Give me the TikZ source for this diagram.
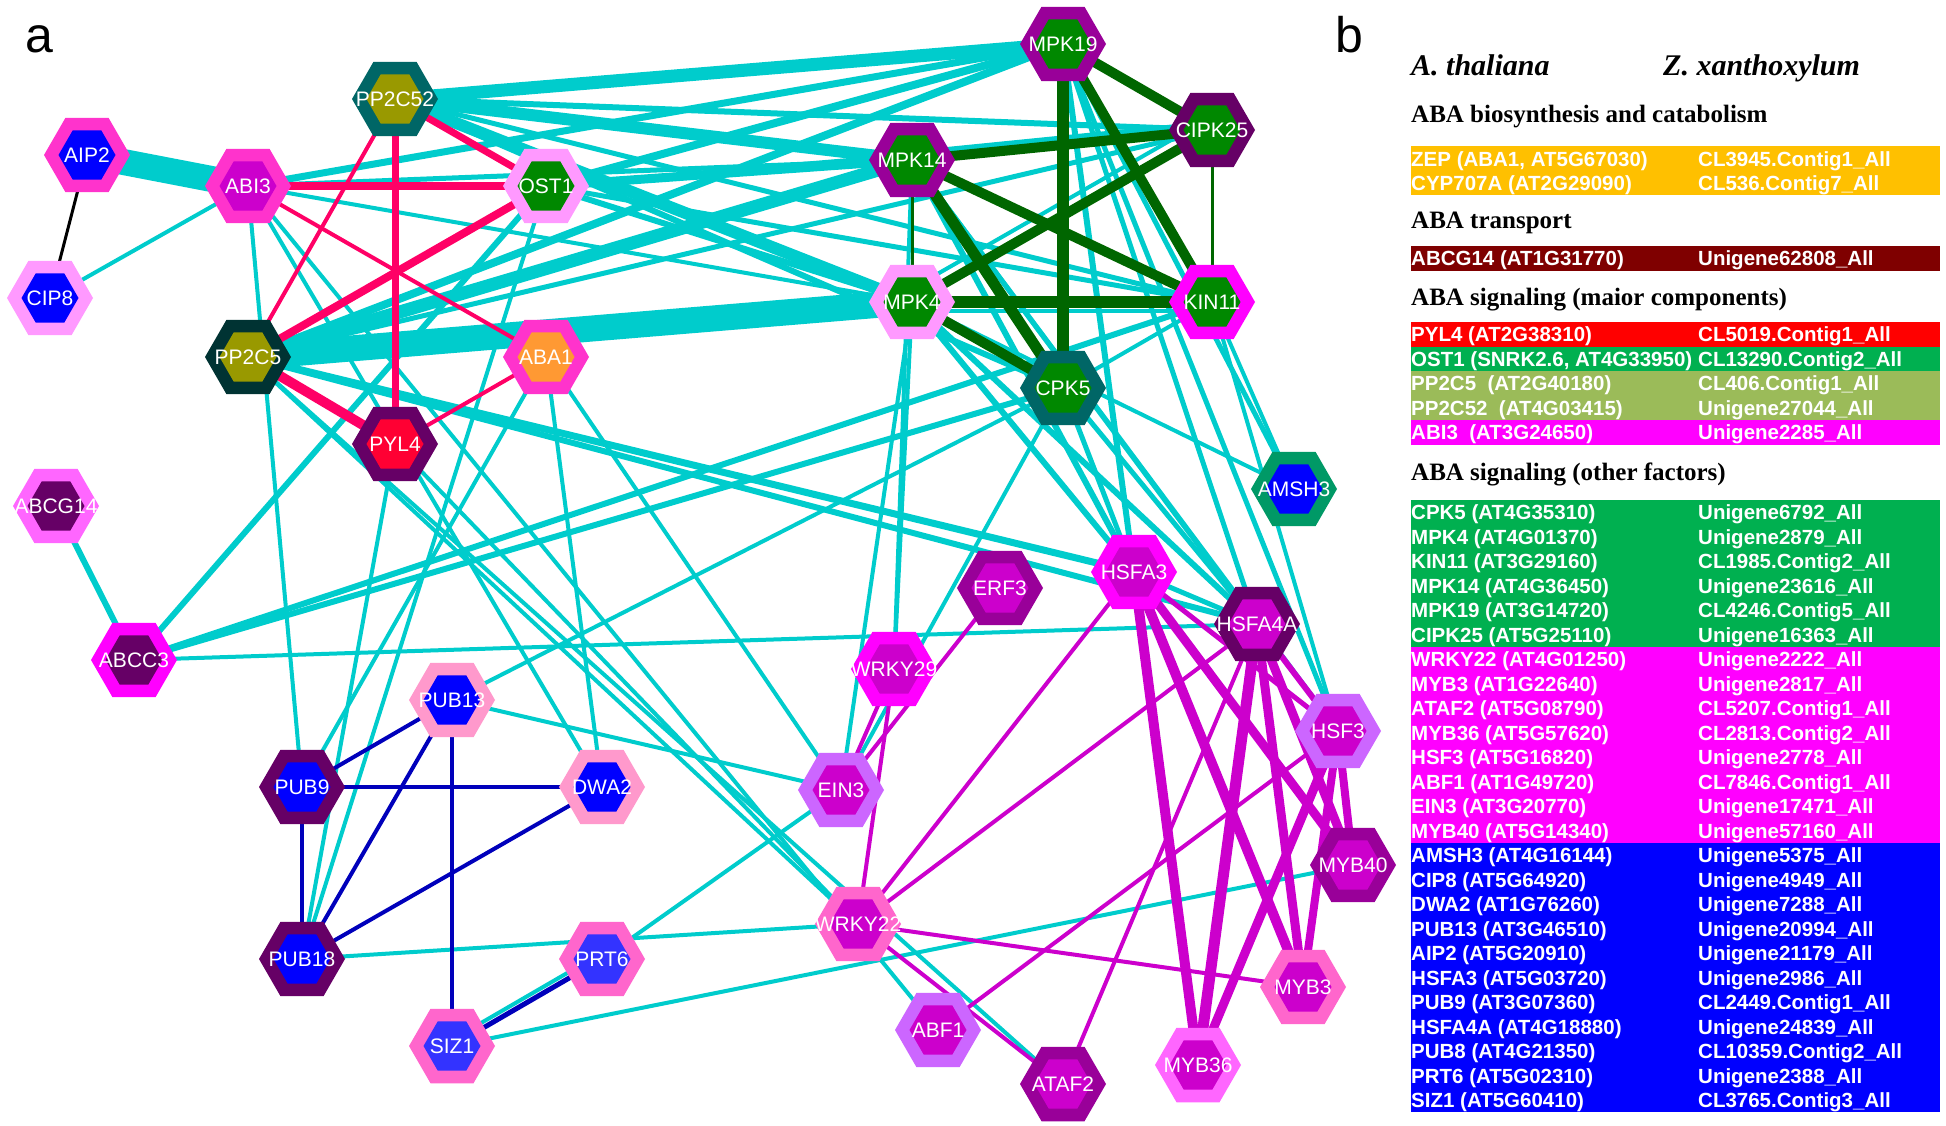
\documentclass[tikz,border=0pt]{standalone}
\usepackage{fontspec}
\setmainfont{Liberation Sans}
\newfontfamily\timesfont{Liberation Serif}
\usepackage{xcolor}
\usepackage{tikz}
\usetikzlibrary{shapes.geometric, backgrounds}

% colori degli archi
\definecolor{ecyan}{HTML}{00CCCC}
\definecolor{ered}{HTML}{FF0066}
\definecolor{egreen}{HTML}{006600}
\definecolor{epurple}{HTML}{CC00CC}
\definecolor{enavy}{HTML}{0000BB}
% colori dei nodi (anello esterno)
\definecolor{hotpink}{HTML}{FF33CC}
\definecolor{lightpink}{HTML}{FF99FF}
\definecolor{rosepink}{HTML}{FF99CC}
\definecolor{pinkring}{HTML}{FF66CC}
\definecolor{orchidring}{HTML}{FF66FF}
\definecolor{fuchsiaring}{HTML}{FF00FF}
\definecolor{plumring}{HTML}{990099}
\definecolor{aubergine}{HTML}{660066}
\definecolor{lilac}{HTML}{CC66FF}
\definecolor{tealring}{HTML}{006666}
\definecolor{deepteal}{HTML}{003333}
\definecolor{seagreen}{HTML}{009966}
% colori dei nodi (esagono interno)
\definecolor{inblue}{HTML}{0000FF}
\definecolor{inblue2}{HTML}{3333FF}
\definecolor{inviolet}{HTML}{CC00CC}
\definecolor{ingreen}{HTML}{008800}
\definecolor{inolive}{HTML}{999900}
\definecolor{inorange}{HTML}{FF9933}
\definecolor{inred}{HTML}{FF0033}
% colori della tabella
\definecolor{barorange}{HTML}{FFC000}
\definecolor{barmaroon}{HTML}{7F0000}
\definecolor{barred}{HTML}{FF0000}
\definecolor{bargreen}{HTML}{00B050}
\definecolor{barolive}{HTML}{9BBB59}
\definecolor{barmagenta}{HTML}{FF00FF}
\definecolor{barblue}{HTML}{0000FF}

\newcommand{\genefont}{\fontsize{21}{21}\selectfont}
\newcommand{\rowfont}{\fontsize{20.5}{20.5}\selectfont\bfseries}
\newcommand{\secfont}{\timesfont\fontsize{25}{25}\selectfont\bfseries}
\newcommand{\spfont}{\timesfont\fontsize{30}{30}\selectfont\bfseries\itshape}
\newcommand{\panelfont}{\fontsize{50}{50}\selectfont}

\tikzset{
  cy/.style={draw=ecyan, line width=#1pt},
  rd/.style={draw=ered, line width=#1pt},
  gn/.style={draw=egreen, line width=#1pt},
  pu/.style={draw=epurple, line width=#1pt},
  nv/.style={draw=enavy, line width=#1pt},
  hexring/.style={regular polygon, regular polygon sides=6, minimum size=86pt, inner sep=0pt},
  genelbl/.style={text=white, font=\genefont, inner sep=0pt},
  rowtxt/.style={text=white, font=\rowfont, anchor=base west, inner sep=0pt},
  sectxt/.style={font=\secfont, anchor=base west, inner sep=0pt},
}

% nodo esagonale: nome, posizione, anello, interno, etichetta
\newcommand{\gene}[5]{%
  \node[hexring, fill=#3, label={[genelbl]center:#5},
    path picture={\fill[#4] (path picture bounding box.center) ++(0:28.5pt)
      -- ++(120:28.5pt) -- ++(180:28.5pt) -- ++(240:28.5pt)
      -- ++(300:28.5pt) -- ++(0:28.5pt) -- cycle;}]
    (#1) at (#2) {};}

\begin{document}
\begin{tikzpicture}[>=latex, x=1pt, y=-1pt]

  \useasboundingbox (0,0) rectangle (1946,1126);

  % 1. Lettere dei pannelli
  \node[font=\panelfont, anchor=base west, inner sep=0pt] (pa) at (25,53) {a};
  \node[font=\panelfont, anchor=base west, inner sep=0pt] (pb) at (1335,53) {b};

  % 2. Nodi della rete
  \gene{AIP2}{87,155}{hotpink}{inblue}{AIP2}
  \gene{CIP8}{50,298}{lightpink}{inblue}{CIP8}
  \gene{ABI3}{248,186}{hotpink}{inviolet}{ABI3}
  \gene{PP2C52}{395,99}{tealring}{inolive}{PP2C52}
  \gene{OST1}{546,186}{lightpink}{ingreen}{OST1}
  \gene{PP2C5}{248,357}{deepteal}{inolive}{PP2C5}
  \gene{ABA1}{546,357}{hotpink}{inorange}{ABA1}
  \gene{PYL4}{395,444}{aubergine}{inred}{PYL4}
  \gene{ABCG14}{56,506}{orchidring}{aubergine}{ABCG14}
  \gene{ABCC3}{134,660}{fuchsiaring}{aubergine}{ABCC3}
  \gene{MPK19}{1063,44}{plumring}{ingreen}{MPK19}
  \gene{MPK14}{912,160}{plumring}{ingreen}{MPK14}
  \gene{CIPK25}{1212,130}{aubergine}{ingreen}{CIPK25}
  \gene{MPK4}{912,302}{lightpink}{ingreen}{MPK4}
  \gene{KIN11}{1212,302}{fuchsiaring}{ingreen}{KIN11}
  \gene{CPK5}{1063,388}{tealring}{ingreen}{CPK5}
  \gene{AMSH3}{1294,489}{seagreen}{inblue}{AMSH3}
  \gene{HSFA3}{1134,572}{fuchsiaring}{inviolet}{HSFA3}
  \gene{ERF3}{1000,588}{plumring}{inviolet}{ERF3}
  \gene{HSFA4A}{1257,624}{aubergine}{inviolet}{HSFA4A}
  \gene{WRKY29}{894,669}{fuchsiaring}{inviolet}{WRKY29}
  \gene{HSF3}{1338,731}{lilac}{inviolet}{HSF3}
  \gene{EIN3}{841,790}{lilac}{inviolet}{EIN3}
  \gene{PUB13}{452,700}{rosepink}{inblue}{PUB13}
  \gene{PUB9}{302,787}{aubergine}{inblue}{PUB9}
  \gene{DWA2}{602,787}{rosepink}{inblue}{DWA2}
  \gene{PUB18}{302,959}{aubergine}{inblue}{PUB18}
  \gene{PRT6}{602,959}{pinkring}{inblue2}{PRT6}
  \gene{SIZ1}{452,1046}{pinkring}{inblue2}{SIZ1}
  \gene{WRKY22}{858,924}{pinkring}{inviolet}{WRKY22}
  \gene{MYB40}{1353,865}{plumring}{inviolet}{MYB40}
  \gene{MYB3}{1303,987}{pinkring}{inviolet}{MYB3}
  \gene{ABF1}{938,1030}{lilac}{inviolet}{ABF1}
  \gene{ATAF2}{1063,1084}{plumring}{inviolet}{ATAF2}
  \gene{MYB36}{1198,1065}{orchidring}{inviolet}{MYB36}

  % 3. Archi (sotto i nodi)
  \begin{scope}[on background layer]
    \fill[white] (0,0) rectangle (1946,1126);
    \foreach \a/\b/\w in {AIP2/ABI3/26, CIP8/ABI3/4, ABI3/PUB9/4, ABI3/DWA2/4,
        ABI3/ABF1/4, ABI3/MPK19/7, ABI3/MPK14/5, ABI3/MPK4/4,
        PP2C52/MPK19/13, PP2C52/MPK14/12, PP2C52/MPK4/12, PP2C52/CIPK25/6,
        PP2C52/KIN11/5, PP2C52/CPK5/6, OST1/MPK19/8, OST1/MPK14/9,
        OST1/MPK4/6, OST1/CIPK25/5, OST1/KIN11/5, PP2C5/MPK4/26,
        PP2C5/MPK14/13, PP2C5/MPK19/8, PP2C5/CIPK25/5, PP2C5/HSFA3/7,
        PP2C5/HSFA4A/6, PP2C5/WRKY22/4, PP2C5/ATAF2/4, PYL4/WRKY22/4,
        ABA1/PUB9/4, ABA1/DWA2/4, ABA1/EIN3/4, ABCG14/ABCC3/6,
        ABCC3/OST1/6, ABCC3/KIN11/6, ABCC3/CPK5/6, ABCC3/HSFA4A/4,
        PUB13/CPK5/4, PUB13/EIN3/4, PUB18/OST1/4, PUB18/PYL4/4,
        PUB18/WRKY22/4, PRT6/EIN3/4, SIZ1/MYB40/4,
        MPK19/HSFA3/6, MPK19/HSFA4A/5, MPK19/AMSH3/5, MPK19/HSF3/5,
        MPK14/HSFA3/6, MPK14/HSFA4A/5, MPK14/HSF3/5, MPK14/WRKY29/4,
        MPK4/HSFA3/6, MPK4/HSFA4A/6, MPK4/AMSH3/4, MPK4/EIN3/4,
        MPK4/WRKY29/4, CPK5/EIN3/4, CPK5/HSFA3/5, CPK5/HSFA4A/5,
        CPK5/KIN11/4, KIN11/AMSH3/4, KIN11/HSF3/4, HSFA3/HSFA4A/5}
      \draw[cy=\w] (\a.center) -- (\b.center);
    % archi ciano accanto a quelli colorati
    \draw[cy=5] ([yshift=7pt]MPK14.center) -- ([yshift=7pt]CIPK25.center);
    \draw[cy=4] ([xshift=-6pt, yshift=10pt]MPK4.center) -- ([xshift=-6pt, yshift=10pt]CIPK25.center);
    \draw[cy=4] ([yshift=-9pt]MPK4.center) -- ([yshift=-9pt]KIN11.center);
    \draw[cy=4] ([xshift=-2pt, yshift=5pt]SIZ1.center) -- ([xshift=-2pt, yshift=5pt]PRT6.center);

    \foreach \a/\b/\w in {ABI3/OST1/8, PP2C52/PYL4/7, PP2C52/OST1/7, PP2C52/PP2C5/4,
        ABI3/ABA1/4, OST1/PP2C5/8, PP2C5/PYL4/10, PYL4/ABA1/4}
      \draw[rd=\w] (\a.center) -- (\b.center);
    \draw[line width=3pt] (AIP2.center) -- (CIP8.center);

    \foreach \a/\b/\w in {MPK19/CIPK25/10, MPK19/CPK5/12, MPK19/KIN11/10,
        MPK14/CIPK25/10, MPK14/MPK4/3, MPK14/KIN11/10, MPK14/CPK5/11,
        CIPK25/MPK4/10, CIPK25/KIN11/3, MPK4/KIN11/12, MPK4/CPK5/10}
      \draw[gn=\w] (\a.center) -- (\b.center);

    \foreach \a/\b/\w in {PUB9/PUB13/4, PUB9/DWA2/4, PUB9/PUB18/4, PUB13/PUB18/4,
        PUB13/SIZ1/4, DWA2/PUB18/4, PRT6/SIZ1/5}
      \draw[nv=\w] (\a.center) -- (\b.center);

    \foreach \a/\b/\w in {HSFA3/MYB36/10, HSFA3/MYB3/10, HSFA3/MYB40/9,
        HSFA3/HSF3/5, HSFA4A/MYB36/11, HSFA4A/MYB3/9, HSFA4A/MYB40/9,
        HSFA4A/HSF3/6, HSF3/MYB36/9, HSF3/MYB3/8, HSF3/MYB40/8,
        ERF3/EIN3/4, WRKY29/EIN3/4, WRKY29/WRKY22/4, HSFA3/WRKY22/4,
        HSFA4A/WRKY22/4, WRKY22/MYB3/4, WRKY22/ATAF2/4, ABF1/HSF3/4,
        ATAF2/HSFA4A/4}
      \draw[pu=\w] (\a.center) -- (\b.center);
  \end{scope}

  % 4. Tabella (pannello b)
  \node[font=\spfont, anchor=base west, inner sep=0pt] (ath) at (1411,76) {A. thaliana};
  \node[font=\spfont, anchor=base west, inner sep=0pt] (zxa) at (1663,76) {Z. xanthoxylum};

  \node[sectxt] (s1) at (1411,123) {ABA biosynthesis and catabolism};
  \node[sectxt] (s2) at (1411,229) {ABA transport};
  \node[sectxt] (s3) at (1411,305) {ABA signaling (maior components)};
  \node[sectxt] (s4) at (1411,480) {ABA signaling (other factors)};

  \fill[barorange] (1411,146) rectangle (1940,195.5);
  \fill[barmaroon] (1411,246) rectangle (1940,270.5);
  \fill[barred] (1411,322) rectangle (1940,346.5);
  \fill[bargreen] (1411,346.5) rectangle (1940,371);
  \fill[barolive] (1411,371) rectangle (1940,420);
  \fill[barmagenta] (1411,420) rectangle (1940,444.5);
  \fill[bargreen] (1411,499.75) rectangle (1940,646.75);
  \fill[barmagenta] (1411,646.75) rectangle (1940,842.75);
  \fill[barblue] (1411,842.75) rectangle (1940,1112.25);

  \foreach \y/\l/\r [count=\i] in {159/{ZEP (ABA1, AT5G67030)}/CL3945.Contig1\_All,
      183.5/{CYP707A (AT2G29090)}/CL536.Contig7\_All,
      258/{ABCG14 (AT1G31770)}/Unigene62808\_All,
      334/{PYL4 (AT2G38310)}/CL5019.Contig1\_All,
      358.5/{OST1 (SNRK2.6, AT4G33950)}/CL13290.Contig2\_All,
      383/{PP2C5 \ (AT2G40180)}/CL406.Contig1\_All,
      407.5/{PP2C52 \ (AT4G03415)}/Unigene27044\_All,
      432/{ABI3 \ (AT3G24650)}/Unigene2285\_All}
  {
    \node[rowtxt] (ta\i) at (1411,\y+7.5) {\l};
    \node[rowtxt] (tz\i) at (1698,\y+7.5) {\r};
  }

  \foreach \l/\r [count=\i from 0] in {{CPK5 (AT4G35310)}/Unigene6792\_All,
      {MPK4 (AT4G01370)}/Unigene2879\_All,
      {KIN11 (AT3G29160)}/CL1985.Contig2\_All,
      {MPK14 (AT4G36450)}/Unigene23616\_All,
      {MPK19 (AT3G14720)}/CL4246.Contig5\_All,
      {CIPK25 (AT5G25110)}/Unigene16363\_All,
      {WRKY22 (AT4G01250)}/Unigene2222\_All,
      {MYB3 (AT1G22640)}/Unigene2817\_All,
      {ATAF2 (AT5G08790)}/CL5207.Contig1\_All,
      {MYB36 (AT5G57620)}/CL2813.Contig2\_All,
      {HSF3 (AT5G16820)}/Unigene2778\_All,
      {ABF1 (AT1G49720)}/CL7846.Contig1\_All,
      {EIN3 (AT3G20770)}/Unigene17471\_All,
      {MYB40 (AT5G14340)}/Unigene57160\_All,
      {AMSH3 (AT4G16144)}/Unigene5375\_All,
      {CIP8 (AT5G64920)}/Unigene4949\_All,
      {DWA2 (AT1G76260)}/Unigene7288\_All,
      {PUB13 (AT3G46510)}/Unigene20994\_All,
      {AIP2 (AT5G20910)}/Unigene21179\_All,
      {HSFA3 (AT5G03720)}/Unigene2986\_All,
      {PUB9 (AT3G07360)}/CL2449.Contig1\_All,
      {HSFA4A (AT4G18880)}/Unigene24839\_All,
      {PUB8 (AT4G21350)}/CL10359.Contig2\_All,
      {PRT6 (AT5G02310)}/Unigene2388\_All,
      {SIZ1 (AT5G60410)}/CL3765.Contig3\_All}
  {
    \node[rowtxt] (oa\i) at (1411,519.5+24.5*\i) {\l};
    \node[rowtxt] (oz\i) at (1698,519.5+24.5*\i) {\r};
  }

\end{tikzpicture}
\end{document}
